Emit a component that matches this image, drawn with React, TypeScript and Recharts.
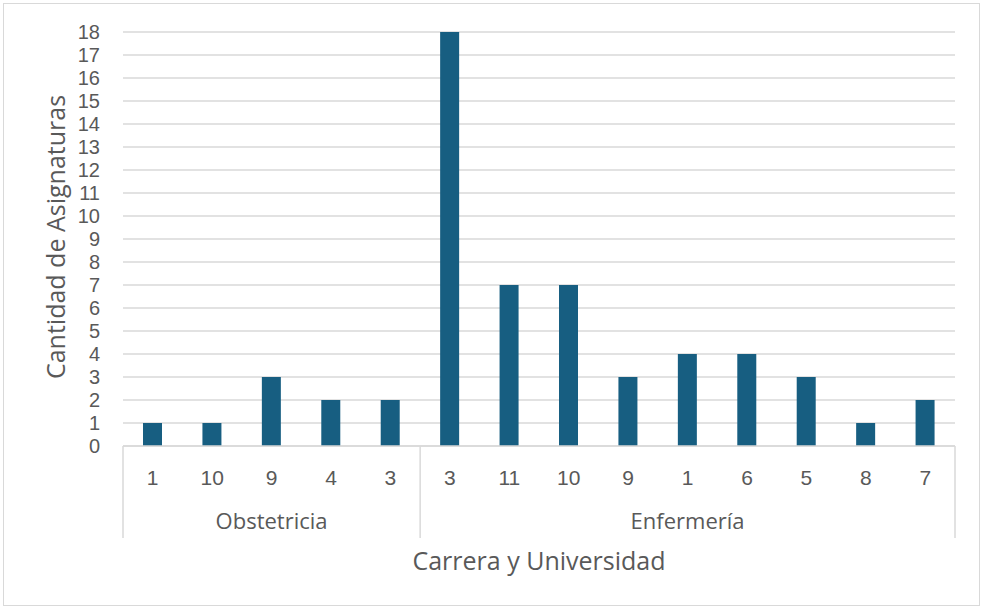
import React from 'react';
import { BarChart, Bar, XAxis, YAxis, CartesianGrid, Label } from 'recharts';

// Universidad (tick label) per bar, grouped by carrera
const universidades = ['1', '10', '9', '4', '3', '3', '11', '10', '9', '1', '6', '5', '8', '7'];
const carreras = ['Obstetricia', 'Obstetricia', 'Obstetricia', 'Obstetricia', 'Obstetricia',
  'Enfermería', 'Enfermería', 'Enfermería', 'Enfermería', 'Enfermería', 'Enfermería', 'Enfermería', 'Enfermería', 'Enfermería'];
const asignaturas = [1, 1, 3, 2, 2, 18, 7, 7, 3, 4, 4, 3, 1, 2];
const yTicks = [0, 1, 2, 3, 4, 5, 6, 7, 8, 9, 10, 11, 12, 13, 14, 15, 16, 17, 18];

const data = universidades.map((u, i) => ({
  id: i,
  universidad: u,
  carrera: carreras[i],
  valor: asignaturas[i],
}));

const W = 975;
const H = 601;
const M = { top: 28, right: 24, left: 0, bottom: 0 };
const Y_W = 119;
const X_H = 159;
const PLOT_W = W - M.left - M.right - Y_W;
const BAND = PLOT_W / data.length;
const FONT = '"Open Sans", "Noto Sans", sans-serif';
const NUM_FONT = '"Liberation Sans", Arial, sans-serif';
const TXT = '#595959';
const LINE = '#d9d9d9';
const TICK_FS = 21;
const GROUP_FS = 22;
const YTICK_FS = 20;
const TITLE_FS = 25;

// groups: label at the middle index, separators at group edges
const groupMid = (name: string) => {
  const idx = data.filter((d) => d.carrera === name).map((d) => d.id);
  return idx[Math.floor(idx.length / 2)];
};

function GroupTick(props: any) {
  const { x, y, payload } = props;
  const i = payload.index ?? payload.value;
  const d = data[i];
  const left = x - BAND / 2;
  const right = x + BAND / 2;
  const startsGroup = i === 0 || data[i - 1].carrera !== d.carrera;
  const isLast = i === data.length - 1;
  const showGroup = groupMid(d.carrera) === i;
  return (
    <g>
      <text x={x} y={y + 31} textAnchor="middle" fill={TXT} fontSize={TICK_FS} fontFamily={NUM_FONT}>
        {d.universidad}
      </text>
      {startsGroup && <line x1={left} x2={left} y1={y - 8} y2={y + 84} stroke={LINE} strokeWidth={1.5} />}
      {isLast && <line x1={right} x2={right} y1={y - 8} y2={y + 84} stroke={LINE} strokeWidth={1.5} />}
      {showGroup && (
        <text x={x} y={y + 75} textAnchor="middle" fill={TXT} fontSize={GROUP_FS} fontFamily={FONT}>
          {d.carrera}
        </text>
      )}
    </g>
  );
}

export default function App() {
  return (
    <div
      style={{
        position: 'absolute',
        left: 3,
        top: 3,
        width: W,
        height: H,
        border: `1px solid ${LINE}`,
        background: '#fff',
      }}
    >
      <BarChart width={W} height={H} data={data} margin={M}>
        <CartesianGrid vertical={false} stroke={LINE} strokeWidth={1.5} />
        <XAxis
          dataKey="id"
          interval={0}
          height={X_H}
          tickLine={false}
          axisLine={{ stroke: LINE, strokeWidth: 1.5 }}
          tick={<GroupTick />}
        >
          <Label
            value="Carrera y Universidad"
            position="insideBottom"
            offset={35}
            fill={TXT}
            fontSize={TITLE_FS}
            fontFamily={FONT}
          />
        </XAxis>
        <YAxis
          width={Y_W}
          domain={[0, 18]}
          ticks={yTicks}
          interval={0}
          axisLine={false}
          tickLine={false}
          tickSize={0}
          tickMargin={23}
          tick={{ fill: TXT, fontSize: YTICK_FS, fontFamily: NUM_FONT }}
        >
          <Label
            content={() => (
              <text
                x={51}
                y={233}
                transform="rotate(-90 51 233)"
                textAnchor="middle"
                dominantBaseline="central"
                fill={TXT}
                fontSize={TITLE_FS}
                fontFamily={FONT}
              >
                Cantidad de Asignaturas
              </text>
            )}
          />
        </YAxis>
        <Bar dataKey="valor" fill="#175e81" barSize={19} isAnimationActive={false} />
      </BarChart>
    </div>
  );
}
